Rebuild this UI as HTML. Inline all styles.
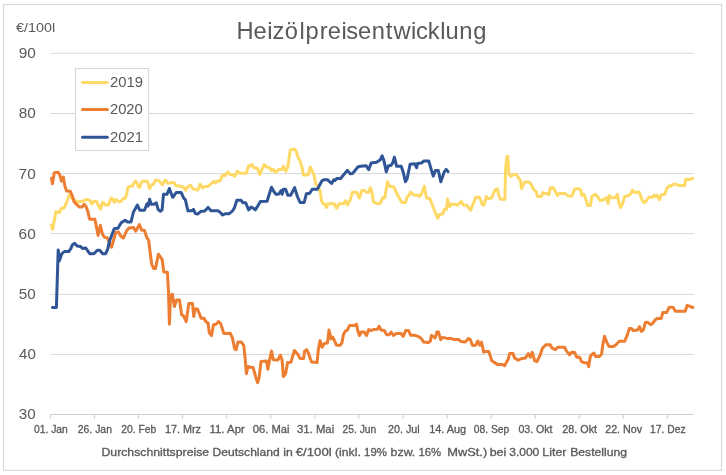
<!DOCTYPE html>
<html lang="de"><head><meta charset="utf-8"><title>Heizölpreisentwicklung</title>
<style>
html,body{margin:0;padding:0;background:#fff;}
body{width:726px;height:475px;overflow:hidden;}
svg{display:block;}
text{font-family:"Liberation Sans",sans-serif;fill:#595959;}
.sm{stroke:#595959;stroke-width:0.3;}
.ln{fill:none;stroke-width:3;stroke-linejoin:round;stroke-linecap:round;}
</style></head><body>
<svg width="726" height="475" viewBox="0 0 726 475">
<rect x="0" y="0" width="726" height="475" fill="#fff"/>
<rect x="3.5" y="4.5" width="718" height="465.9" fill="#fff" stroke="#d8d8d8" stroke-width="1.15"/>

<line x1="50.4" x2="693.8" y1="53.3" y2="53.3" stroke="#d9d9d9" stroke-width="1"/>
<line x1="50.4" x2="693.8" y1="113.5" y2="113.5" stroke="#d9d9d9" stroke-width="1"/>
<line x1="50.4" x2="693.8" y1="173.6" y2="173.6" stroke="#d9d9d9" stroke-width="1"/>
<line x1="50.4" x2="693.8" y1="233.6" y2="233.6" stroke="#d9d9d9" stroke-width="1"/>
<line x1="50.4" x2="693.8" y1="294.4" y2="294.4" stroke="#d9d9d9" stroke-width="1"/>
<line x1="50.4" x2="693.8" y1="354.4" y2="354.4" stroke="#d9d9d9" stroke-width="1"/>
<line x1="49.9" x2="693.8" y1="414.5" y2="414.5" stroke="#d0d0d0" stroke-width="1.1"/>
<line x1="50.40" x2="50.40" y1="414.5" y2="418.8" stroke="#d0d0d0" stroke-width="1.1"/>
<text x="34.00" y="432.8" font-size="10.9" textLength="33.82" lengthAdjust="spacingAndGlyphs" class="sm">01. Jan</text>
<line x1="94.47" x2="94.47" y1="414.5" y2="418.8" stroke="#d0d0d0" stroke-width="1.1"/>
<text x="77.78" y="432.8" font-size="10.9" textLength="34.20" lengthAdjust="spacingAndGlyphs" class="sm">26. Jan</text>
<line x1="138.54" x2="138.54" y1="414.5" y2="418.8" stroke="#d0d0d0" stroke-width="1.1"/>
<text x="121.18" y="432.8" font-size="10.9" textLength="35.16" lengthAdjust="spacingAndGlyphs" class="sm">20. Feb</text>
<line x1="182.61" x2="182.61" y1="414.5" y2="418.8" stroke="#d0d0d0" stroke-width="1.1"/>
<text x="164.98" y="432.8" font-size="10.9" textLength="36.06" lengthAdjust="spacingAndGlyphs" class="sm">17. Mrz</text>
<line x1="226.67" x2="226.67" y1="414.5" y2="418.8" stroke="#d0d0d0" stroke-width="1.1"/>
<text x="209.57" y="432.8" font-size="10.9" textLength="35.21" lengthAdjust="spacingAndGlyphs" class="sm">11. Apr</text>
<line x1="270.74" x2="270.74" y1="414.5" y2="418.8" stroke="#d0d0d0" stroke-width="1.1"/>
<text x="252.86" y="432.8" font-size="10.9" textLength="36.69" lengthAdjust="spacingAndGlyphs" class="sm">06. Mai</text>
<line x1="314.81" x2="314.81" y1="414.5" y2="418.8" stroke="#d0d0d0" stroke-width="1.1"/>
<text x="296.97" y="432.8" font-size="10.9" textLength="37.20" lengthAdjust="spacingAndGlyphs" class="sm">31. Mai</text>
<line x1="358.88" x2="358.88" y1="414.5" y2="418.8" stroke="#d0d0d0" stroke-width="1.1"/>
<text x="342.58" y="432.8" font-size="10.9" textLength="33.68" lengthAdjust="spacingAndGlyphs" class="sm">25. Jun</text>
<line x1="402.95" x2="402.95" y1="414.5" y2="418.8" stroke="#d0d0d0" stroke-width="1.1"/>
<text x="388.06" y="432.8" font-size="10.9" textLength="31.56" lengthAdjust="spacingAndGlyphs" class="sm">20. Jul</text>
<line x1="447.02" x2="447.02" y1="414.5" y2="418.8" stroke="#d0d0d0" stroke-width="1.1"/>
<text x="429.18" y="432.8" font-size="10.9" textLength="37.01" lengthAdjust="spacingAndGlyphs" class="sm">14. Aug</text>
<line x1="491.08" x2="491.08" y1="414.5" y2="418.8" stroke="#d0d0d0" stroke-width="1.1"/>
<text x="473.80" y="432.8" font-size="10.9" textLength="35.54" lengthAdjust="spacingAndGlyphs" class="sm">08. Sep</text>
<line x1="535.15" x2="535.15" y1="414.5" y2="418.8" stroke="#d0d0d0" stroke-width="1.1"/>
<text x="518.39" y="432.8" font-size="10.9" textLength="34.19" lengthAdjust="spacingAndGlyphs" class="sm">03. Okt</text>
<line x1="579.22" x2="579.22" y1="414.5" y2="418.8" stroke="#d0d0d0" stroke-width="1.1"/>
<text x="562.26" y="432.8" font-size="10.9" textLength="34.82" lengthAdjust="spacingAndGlyphs" class="sm">28. Okt</text>
<line x1="623.29" x2="623.29" y1="414.5" y2="418.8" stroke="#d0d0d0" stroke-width="1.1"/>
<text x="605.16" y="432.8" font-size="10.9" textLength="37.08" lengthAdjust="spacingAndGlyphs" class="sm">22. Nov</text>
<line x1="667.36" x2="667.36" y1="414.5" y2="418.8" stroke="#d0d0d0" stroke-width="1.1"/>
<text x="650.01" y="432.8" font-size="10.9" textLength="35.55" lengthAdjust="spacingAndGlyphs" class="sm">17. Dez</text>
<text x="18.68" y="58.2" font-size="14.5" textLength="17.12" lengthAdjust="spacingAndGlyphs">90</text>
<text x="18.73" y="118.4" font-size="14.5" textLength="17.07" lengthAdjust="spacingAndGlyphs">80</text>
<text x="18.61" y="178.5" font-size="14.5" textLength="17.20" lengthAdjust="spacingAndGlyphs">70</text>
<text x="18.62" y="238.5" font-size="14.5" textLength="17.19" lengthAdjust="spacingAndGlyphs">60</text>
<text x="18.79" y="299.3" font-size="14.5" textLength="17.01" lengthAdjust="spacingAndGlyphs">50</text>
<text x="19.05" y="359.3" font-size="14.5" textLength="16.73" lengthAdjust="spacingAndGlyphs">40</text>
<text x="18.82" y="418.9" font-size="14.5" textLength="16.98" lengthAdjust="spacingAndGlyphs">30</text>
<text x="15.99" y="31.8" font-size="12" textLength="39.17" lengthAdjust="spacingAndGlyphs">€/100l</text>
<text x="236.5 253.5 267.2 272.5 284.8 299.6 305.5 319.8 327.8 341.4 346.3 357.9 371.7 385.7 393.4 410.9 416.0 427.7 440.3 445.6 459.3 473.3" y="38.9" font-size="23.7">Heizölpreisentwicklung</text>
<polyline class="ln" stroke="#ffd966" points="51.3,225.0 52.6,229.4 55.9,211.8 59.5,212.5 61.2,208.3 63.8,208.2 65.5,205.0 69.5,194.8 72.5,199.0 75.7,200.9 78.6,202.1 81.2,201.2 83.7,201.1 86.6,199.2 89.2,200.2 90.4,201.2 91.9,204.0 93.8,201.5 96.3,201.2 98.4,205.3 100.5,209.1 102.7,202.3 103.5,202.6 105.3,205.1 108.5,204.9 109.8,201.5 111.1,198.1 112.3,198.4 114.4,202.3 116.1,199.5 118.7,201.7 121.2,201.5 122.9,198.7 125.4,198.1 126.7,193.9 127.9,187.4 130.0,186.3 132.5,186.1 133.8,183.1 135.5,181.0 137.2,183.1 138.4,186.9 139.7,187.3 141.8,181.9 143.5,181.2 147.3,181.2 148.5,184.8 149.6,188.6 152.3,184.5 153.6,184.0 155.3,180.3 158.2,180.2 160.3,182.3 162.4,184.8 165.0,180.3 165.8,180.3 167.5,182.9 170.0,183.1 171.7,182.3 173.8,182.5 175.1,184.0 176.3,186.1 178.5,185.6 180.6,186.5 183.1,186.7 184.4,188.2 185.6,190.3 187.3,187.3 188.6,186.1 190.4,185.2 193.0,188.9 195.5,189.4 197.7,190.2 200.2,184.2 202.6,188.0 204.8,186.4 208.1,186.4 210.7,184.2 213.7,181.3 215.4,183.0 217.1,181.0 219.9,181.0 222.5,175.1 225.0,175.7 227.5,172.0 230.1,174.6 232.6,174.6 234.8,176.2 237.3,171.2 239.3,173.2 242.7,173.2 246.4,173.2 248.6,165.6 250.3,166.1 252.0,164.4 253.7,167.8 257.5,168.3 259.6,174.6 261.7,170.1 264.2,164.5 266.4,167.0 269.3,167.4 271.8,170.7 273.5,169.6 275.5,172.4 278.5,169.6 281.6,169.6 283.3,166.2 285.6,171.2 287.8,167.0 290.3,149.8 294.6,149.3 296.2,151.3 297.9,156.9 300.1,161.1 301.8,166.2 303.5,175.1 308.0,175.1 310.2,167.0 312.2,171.2 313.9,174.6 316.0,184.7 318.1,185.6 320.3,192.3 321.5,200.7 323.2,203.8 324.9,204.1 326.6,207.5 327.8,203.8 334.2,203.8 336.7,208.3 338.9,203.8 343.4,203.8 345.6,200.7 347.6,204.9 350.2,199.9 352.4,192.3 356.9,192.3 359.4,198.2 362.0,190.3 364.2,190.3 366.2,192.3 368.7,192.3 370.4,187.6 371.6,190.5 373.4,202.0 376.7,203.5 380.4,203.6 382.6,197.7 384.8,198.0 387.4,181.7 389.4,186.2 393.6,186.7 397.8,195.5 402.0,202.6 405.4,202.6 407.4,196.4 408.8,195.8 410.4,192.1 414.2,195.2 418.0,195.2 419.7,196.4 421.9,193.0 424.3,186.2 426.5,198.0 429.8,198.5 434.9,211.5 437.8,218.3 439.4,214.4 442.8,214.1 444.5,209.0 446.7,209.3 447.5,198.9 449.6,206.5 451.2,204.3 456.0,204.3 457.3,205.3 461.4,201.4 463.5,205.3 466.9,205.3 470.6,210.3 475.8,197.2 479.6,197.2 482.5,204.9 484.2,204.9 486.4,196.5 488.4,198.7 491.5,198.1 495.2,189.7 497.4,188.9 498.9,195.6 500.6,199.3 504.9,199.3 505.6,168.7 507.0,156.3 507.8,156.3 509.0,174.6 511.2,176.2 513.4,174.6 516.2,174.6 520.4,180.5 521.6,188.5 524.7,182.1 528.9,182.1 530.6,183.5 533.9,189.7 536.0,191.4 537.6,196.5 541.5,196.5 542.7,192.6 544.9,193.6 546.6,193.6 548.8,194.8 550.5,187.7 553.3,187.7 557.5,195.6 559.2,193.6 565.1,193.6 568.5,196.1 571.9,196.1 574.7,188.9 578.6,188.5 580.6,189.7 581.6,195.3 583.7,194.3 585.3,197.3 587.5,205.4 590.4,205.4 591.7,196.9 595.1,194.2 597.1,195.8 599.8,200.2 602.6,200.2 606.3,197.7 608.2,203.6 609.4,195.5 611.6,197.7 615.3,197.7 617.3,194.2 619.0,203.6 620.7,207.6 622.4,204.3 624.6,196.4 627.9,195.8 630.4,194.2 632.5,190.1 634.2,192.5 639.2,192.1 642.2,200.2 643.9,202.6 646.0,201.4 648.7,197.2 652.7,197.2 654.0,195.2 655.4,196.4 657.1,195.2 659.4,199.7 661.6,194.7 665.0,194.2 666.7,188.4 669.2,185.7 671.2,186.2 673.4,184.2 675.9,184.2 678.5,185.4 684.7,185.4 685.7,179.5 689.4,179.5 692.8,178.3"/>
<polyline class="ln" stroke="#ed7d31" points="51.5,178.2 52.4,183.7 54.3,172.8 58.2,172.2 59.9,175.3 61.4,181.2 63.3,177.0 64.9,186.2 66.6,191.0 70.3,191.3 72.2,195.6 74.0,201.5 76.5,204.4 79.5,207.1 82.0,207.1 84.1,204.4 85.8,206.1 87.9,211.6 89.6,219.2 94.9,219.3 97.0,229.6 98.1,235.5 100.3,225.3 102.7,234.6 104.4,237.1 107.4,238.0 109.9,243.9 111.6,247.2 114.2,238.0 115.8,232.4 118.4,232.1 120.9,236.3 123.4,238.0 126.8,230.4 129.0,227.9 133.5,227.5 135.7,231.2 139.4,224.5 141.6,230.1 144.5,230.4 146.5,236.8 148.7,240.5 150.4,254.5 151.7,264.3 153.7,268.5 155.5,268.5 158.4,254.2 162.1,259.3 163.8,271.9 167.4,272.2 168.5,292.1 169.4,324.2 170.6,295.5 172.4,294.2 174.4,306.5 176.6,300.1 179.5,300.1 181.7,314.9 183.4,315.7 186.2,321.6 188.8,303.6 192.5,303.6 193.8,316.6 195.2,309.0 197.5,309.0 201.1,318.3 204.0,318.2 205.9,321.8 208.1,323.1 209.3,332.8 211.5,335.6 213.5,324.8 216.0,324.3 218.5,321.5 220.6,323.5 223.9,333.6 230.3,333.3 232.4,337.8 234.6,348.8 236.2,349.6 237.9,342.0 241.3,342.0 243.8,345.4 245.2,358.9 246.4,373.7 248.0,366.5 250.6,367.3 253.1,367.6 255.6,376.6 257.6,382.8 259.3,376.6 261.0,361.4 266.6,360.9 267.8,369.3 269.9,358.9 271.5,351.0 273.3,359.7 277.9,360.1 280.4,355.2 282.1,360.1 283.4,376.6 285.6,373.7 287.6,362.6 291.0,362.2 294.4,350.5 297.8,354.2 300.0,358.4 303.7,358.4 304.5,351.3 306.7,349.6 308.7,353.8 310.2,358.5 311.7,362.1 317.1,362.5 318.4,349.0 320.1,340.6 322.1,347.3 324.3,343.6 327.4,343.1 329.0,330.1 331.1,338.9 332.8,337.2 334.4,340.6 336.6,345.3 340.3,345.3 342.0,342.6 343.4,334.7 345.4,331.0 347.4,330.1 349.6,325.4 354.7,325.4 356.4,324.2 358.0,331.3 359.4,335.5 361.4,332.1 364.3,332.1 366.5,335.5 368.7,329.6 371.0,330.5 373.7,329.6 377.4,329.3 379.1,326.2 381.1,330.1 384.2,330.5 386.7,334.7 389.2,334.7 391.2,332.1 393.4,335.5 396.3,333.5 401.0,333.5 403.2,336.4 405.7,330.5 408.6,330.5 410.6,335.2 414.5,335.2 417.9,336.4 420.9,338.0 423.7,342.1 428.4,342.5 430.4,341.0 431.5,335.4 433.5,336.7 435.2,337.9 436.9,332.0 438.5,332.0 440.6,339.6 442.8,337.4 447.0,338.4 451.2,338.4 453.7,339.6 458.8,339.6 461.0,341.6 465.2,342.1 468.5,338.4 470.2,339.6 472.6,345.5 475.6,345.2 477.8,341.0 479.8,345.2 481.5,342.1 483.7,352.2 485.7,351.4 488.8,351.4 491.6,360.3 494.2,362.4 497.5,364.4 502.6,364.4 504.6,365.7 506.3,362.4 508.0,359.8 509.7,353.6 513.0,353.6 514.7,358.1 518.1,360.3 521.1,358.7 525.3,358.1 528.4,353.6 530.4,357.3 532.3,352.4 534.7,360.8 537.0,361.5 540.2,354.8 542.6,348.0 546.0,344.7 550.2,344.7 551.9,348.0 555.3,349.7 557.8,347.2 564.6,347.2 566.2,350.6 569.6,354.8 571.8,352.2 574.7,352.6 576.9,357.3 579.7,357.3 581.4,361.5 583.9,362.7 587.3,362.7 588.7,366.6 590.3,356.5 592.0,354.3 594.0,353.1 595.7,356.5 599.4,356.5 601.6,354.3 602.8,344.7 604.5,336.2 606.7,342.1 608.9,346.4 613.4,346.4 616.0,344.7 619.3,341.3 624.7,341.3 627.4,334.6 629.4,328.5 631.4,328.4 633.1,330.5 637.6,330.1 639.4,326.7 641.5,331.5 643.5,329.6 645.3,322.5 647.7,322.3 650.7,324.7 652.9,323.0 655.4,319.6 657.4,318.4 661.3,318.4 662.8,312.4 666.7,312.4 669.2,307.3 673.1,307.3 675.4,311.2 685.2,311.2 687.2,305.3 689.4,306.1 692.8,307.5"/>
<polyline class="ln" stroke="#2f5597" points="52.4,307.5 56.4,307.4 58.2,250.0 59.4,260.8 61.6,254.0 64.4,251.5 68.7,251.5 70.7,248.9 72.4,244.7 74.6,243.4 77.1,245.9 80.5,246.4 82.5,248.6 85.8,248.1 89.7,253.7 93.9,253.7 97.3,250.3 99.8,250.3 102.7,253.7 105.7,253.7 107.8,248.9 109.4,241.4 114.2,228.7 117.9,228.2 121.2,222.8 125.1,220.3 127.6,222.0 131.0,222.0 133.5,211.9 137.4,205.1 139.8,210.2 144.5,210.2 147.0,203.8 148.2,206.0 149.6,199.2 151.2,204.3 154.0,204.3 156.3,202.8 158.2,209.6 160.4,211.2 162.1,209.9 163.5,194.3 166.9,194.3 169.4,188.5 170.6,192.2 172.8,197.3 176.1,192.6 181.2,192.6 183.7,198.1 185.4,199.8 187.9,210.8 191.8,210.8 193.5,209.4 195.2,213.3 197.5,214.2 200.6,211.6 204.8,211.1 208.1,207.4 211.0,210.8 218.3,210.8 220.8,212.8 222.5,215.0 225.0,213.8 228.9,213.8 232.6,210.8 234.6,207.4 236.8,200.3 241.0,200.3 243.0,202.7 245.7,202.7 248.6,209.9 251.1,207.1 253.2,208.3 255.3,209.9 257.9,205.7 260.4,201.5 267.1,201.3 269.3,194.0 271.5,187.2 273.8,191.5 276.0,194.3 278.9,194.0 281.1,190.6 282.2,194.3 283.3,189.3 285.6,189.3 287.8,195.3 290.7,195.3 294.6,187.6 297.4,196.5 300.1,202.4 304.2,202.4 306.4,193.7 309.7,193.2 312.2,189.3 317.3,189.3 322.0,180.8 324.0,179.7 327.4,179.7 331.6,183.5 333.8,179.7 335.0,180.5 336.7,178.5 340.6,178.5 347.3,170.4 350.2,173.8 352.7,173.4 357.8,167.0 360.3,166.2 366.2,165.7 368.7,169.6 371.2,163.0 376.5,162.3 380.1,160.0 382.1,155.9 383.8,160.1 386.3,171.9 388.2,166.0 391.1,165.2 392.8,162.6 394.4,157.1 396.6,166.3 401.2,166.3 403.4,172.8 405.4,181.7 407.1,178.7 410.1,164.3 414.7,163.8 416.7,167.7 417.5,163.5 421.4,163.1 423.9,161.0 428.7,161.0 433.2,176.1 435.4,170.6 438.3,170.6 440.8,181.7 444.2,171.9 446.2,169.4 448.0,171.6"/>
<rect x="75.5" y="68.5" width="73.2" height="82" fill="#fff" stroke="#d4d4d4" stroke-width="1"/>
<line x1="82.5" x2="107.3" y1="82.4" y2="82.4" stroke="#ffd966" stroke-width="3" stroke-linecap="round"/>
<text x="109.90" y="87.4" font-size="14.1" textLength="33.05" lengthAdjust="spacingAndGlyphs">2019</text>
<line x1="82.5" x2="107.3" y1="109.4" y2="109.4" stroke="#ed7d31" stroke-width="3" stroke-linecap="round"/>
<text x="109.91" y="114.4" font-size="14.1" textLength="32.92" lengthAdjust="spacingAndGlyphs">2020</text>
<line x1="82.5" x2="107.3" y1="137.2" y2="137.2" stroke="#2f5597" stroke-width="3" stroke-linecap="round"/>
<text x="109.90" y="142.2" font-size="14.1" textLength="33.07" lengthAdjust="spacingAndGlyphs">2021</text>
<text x="101.49" y="455.8" font-size="11" textLength="107.65" lengthAdjust="spacingAndGlyphs" class="sm">Durchschnittspreise</text>
<text x="212.61" y="455.8" font-size="11" textLength="67.07" lengthAdjust="spacingAndGlyphs" class="sm">Deutschland</text>
<text x="283.18" y="455.8" font-size="11" textLength="9.51" lengthAdjust="spacingAndGlyphs" class="sm">in</text>
<text x="295.80" y="455.8" font-size="11" textLength="35.88" lengthAdjust="spacingAndGlyphs" class="sm">€/100l</text>
<text x="334.94" y="455.8" font-size="11" textLength="25.88" lengthAdjust="spacingAndGlyphs" class="sm">(inkl.</text>
<text x="364.13" y="455.8" font-size="11" textLength="22.88" lengthAdjust="spacingAndGlyphs" class="sm">19%</text>
<text x="390.63" y="455.8" font-size="11" textLength="24.67" lengthAdjust="spacingAndGlyphs" class="sm">bzw.</text>
<text x="418.43" y="455.8" font-size="11" textLength="22.77" lengthAdjust="spacingAndGlyphs" class="sm">16%</text>
<text x="447.25" y="455.8" font-size="11" textLength="39.95" lengthAdjust="spacingAndGlyphs" class="sm">MwSt.)</text>
<text x="489.70" y="455.8" font-size="11" textLength="16.64" lengthAdjust="spacingAndGlyphs" class="sm">bei</text>
<text x="509.24" y="455.8" font-size="11" textLength="30.03" lengthAdjust="spacingAndGlyphs" class="sm">3.000</text>
<text x="542.28" y="455.8" font-size="11" textLength="24.23" lengthAdjust="spacingAndGlyphs" class="sm">Liter</text>
<text x="570.20" y="455.8" font-size="11" textLength="56.88" lengthAdjust="spacingAndGlyphs" class="sm">Bestellung</text>
</svg></body></html>
